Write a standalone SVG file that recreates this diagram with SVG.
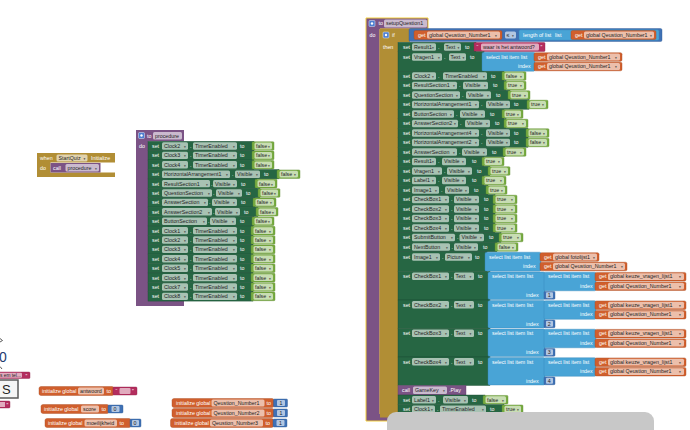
<svg xmlns="http://www.w3.org/2000/svg" width="690" height="430" viewBox="0 0 690 430">
<style>
text{font-family:"Liberation Sans",Arial,sans-serif;font-size:5.3px}
.t{fill:#fff}
.k{fill:#1e1e1e}
.a{font-family:"DejaVu Sans",sans-serif;font-size:3.6px;fill:#444}
.f{fill:#fff;fill-opacity:.6}
.g{fill:#266643;stroke:#1c4d32;stroke-width:.4}
.b{fill:#77ab41;stroke:#5d8b31;stroke-width:.4}
.o{fill:#d05f2d;stroke:#a9491f;stroke-width:.4}
.l{fill:#49a4d6;stroke:#3386b8;stroke-width:.4}
.m{fill:#3f71b5;stroke:#2f5a96;stroke-width:.4}
.p{fill:#7b5385}
.y{fill:#b18e35}
.s{fill:#b32d5e;stroke:#8e2049;stroke-width:.4}
</style>
<defs>
<g id="gear"><rect width="6" height="6" rx="1" fill="#4d7fd1" stroke="#e6eefa" stroke-width=".5"/><circle cx="3" cy="3" r="1.2" fill="#fff"/></g>
</defs>
<rect width="690" height="430" fill="#fff"/>

<g id="fragments">
<path d="M0,338.5L2.5,340.5L0,342" stroke="#333" stroke-width=".8" fill="none"/>
<text x="-1" y="362" style="font-size:14px;fill:#1f3d70">0</text>
<path d="M0,366.5L2,369" stroke="#333" stroke-width=".8" fill="none"/>
<rect class="s" x="-2" y="372" width="32" height="6.5" rx="1"/>
<rect class="f" x="-2" y="372.7" width="24" height="5.1" rx="1"/>
<text class="k" x="0" y="377" style="font-size:4.8px">s em tel...</text>
<text class="t" x="25.5" y="378">”</text>
<rect x="-1" y="380" width="19" height="18" fill="#f5f5f5" stroke="#5a5a5a" stroke-width="1.5"/>
<text x="2" y="394" style="font-size:13px;fill:#222">S</text>
<rect class="s" x="-2" y="401" width="12" height="7" rx="1"/>
<rect class="f" x="-2" y="402" width="7" height="5"/>
<text class="t" x="6.5" y="407">”</text>
</g>

<g id="when-StartQuiz">
<path class="y" d="M37,153H115V162.5H50.5V172.5H115V177H37Z"/>
<text class="t" x="40" y="160">when</text>
<rect class="f" x="56.5" y="154.5" width="31" height="7" rx="1.5"/>
<text class="k" x="58.5" y="160">StartQuiz<tspan class="a" x="83.5">▾</tspan></text>
<text class="t" x="91" y="160">Initialize</text>
<text class="t" x="40" y="169.5">do</text>
<rect class="p" x="50.5" y="163" width="50" height="9.5"/>
<text class="t" x="53" y="169.6">call</text>
<rect class="f" x="65.5" y="164" width="33.5" height="7.4" rx="1.5"/>
<text class="k" x="67.5" y="169.6">procedure<tspan class="a" x="95">▾</tspan></text>
</g>

<g id="init-antwoord">
<rect class="o" x="39" y="386.5" width="75" height="9" rx="2"/>
<text class="t" x="42" y="392.9">initialize global</text>
<rect class="f" x="78" y="387.6" width="26" height="6.8" rx="1.5"/>
<text class="k" x="80" y="392.9">antwoord</text>
<text class="t" x="106.5" y="392.9">to</text>
<rect class="s" x="113" y="387" width="24" height="8" rx="1"/>
<text class="t" x="115.5" y="393.3">“</text>
<rect class="f" x="119.5" y="388" width="11" height="6" rx="1"/>
<text class="t" x="132" y="393.3">”</text>
</g>
<g id="init-score">
<rect class="o" x="41" y="404.5" width="68" height="9" rx="2"/>
<text class="t" x="44" y="410.9">initialize global</text>
<rect class="f" x="81" y="405.6" width="18" height="6.8" rx="1.5"/>
<text class="k" x="83" y="410.9">score</text>
<text class="t" x="101.5" y="410.9">to</text>
<rect class="m" x="108" y="405" width="15" height="8" rx="1"/>
<rect class="f" x="111.5" y="406" width="8" height="6" rx="1"/>
<text class="k" x="113.5" y="410.9">0</text>
</g>
<g id="init-moeilijkheid">
<rect class="o" x="45" y="418.5" width="86" height="9" rx="2"/>
<text class="t" x="48" y="424.9">initialize global</text>
<rect class="f" x="84.5" y="419.6" width="32.5" height="6.8" rx="1.5"/>
<text class="k" x="86.5" y="424.9">moeilijkheid</text>
<text class="t" x="119.5" y="424.9">to</text>
<rect class="m" x="130" y="419" width="11" height="8" rx="1"/>
<rect class="f" x="132" y="420" width="7" height="6" rx="1"/>
<text class="k" x="133.5" y="424.9">0</text>
</g>
<g id="init-Qeustion_Number1">
<rect class="o" x="172" y="398.5" width="102" height="9" rx="2"/>
<text class="t" x="176" y="404.9">initialize global</text>
<rect class="f" x="211.5" y="399.6" width="53" height="6.8" rx="1.5"/>
<text class="k" x="213.5" y="404.9">Qeustion_Number1</text>
<text class="t" x="266.5" y="404.9">to</text>
<rect class="m" x="273.5" y="399" width="14" height="8" rx="1"/>
<rect class="f" x="277" y="400" width="8" height="6" rx="1"/>
<text class="k" x="279.5" y="404.9">1</text>
</g>
<g id="init-Qeustion_Number2">
<rect class="o" x="172" y="408.5" width="102" height="9" rx="2"/>
<text class="t" x="176" y="414.9">initialize global</text>
<rect class="f" x="211.5" y="409.6" width="53" height="6.8" rx="1.5"/>
<text class="k" x="213.5" y="414.9">Qeustion_Number2</text>
<text class="t" x="266.5" y="414.9">to</text>
<rect class="m" x="273.5" y="409" width="14" height="8" rx="1"/>
<rect class="f" x="277" y="410" width="8" height="6" rx="1"/>
<text class="k" x="279.5" y="414.9">1</text>
</g>
<g id="init-Qeustion_Number3">
<rect class="o" x="170.5" y="418.5" width="103" height="9" rx="2"/>
<text class="t" x="174.5" y="424.9">initialize global</text>
<rect class="f" x="210" y="419.6" width="53" height="6.8" rx="1.5"/>
<text class="k" x="212" y="424.9">Qeustion_Number3</text>
<text class="t" x="265.5" y="424.9">to</text>
<rect class="m" x="273" y="419" width="14" height="8" rx="1"/>
<rect class="f" x="276.5" y="420" width="8" height="6" rx="1"/>
<text class="k" x="279" y="424.9">1</text>
</g>

<g id="procedure">
<path class="p" d="M136,130H184V141.3H148V301.1H184V306H136Z"/>
<use href="#gear" x="138.5" y="132.5"/>
<text class="t" x="147" y="137.6">to</text>
<rect class="f" x="153" y="132" width="29" height="7.4" rx="1.5"/>
<text class="k" x="155" y="137.6">procedure</text>
<text class="t" x="139" y="148">do</text>

<g transform="translate(0,146)"><rect class="g" x="148" y="-4.7" width="106" height="9.4"/><text class="t" x="152" y="1.9">set</text><rect class="f" x="162" y="-3.7" width="26" height="7.4" rx="1.5"/><text class="k" x="164" y="1.9">Clock2<tspan class="a" x="184">▾</tspan></text><text class="t" x="190" y="1.9">.</text><rect class="f" x="193" y="-3.7" width="44" height="7.4" rx="1.5"/><text class="k" x="195" y="1.9">TimerEnabled<tspan class="a" x="233">▾</tspan></text><text class="t" x="240" y="1.9">to</text><rect class="b" x="252" y="-4.3" width="22" height="8.6" rx="1"/><rect class="f" x="254.5" y="-3.4" width="17.5" height="6.8" rx="1.5"/><text class="k" x="256" y="1.9">false<tspan class="a" x="268">▾</tspan></text></g>
<g transform="translate(0,155.4)"><rect class="g" x="148" y="-4.7" width="106" height="9.4"/><text class="t" x="152" y="1.9">set</text><rect class="f" x="162" y="-3.7" width="26" height="7.4" rx="1.5"/><text class="k" x="164" y="1.9">Clock3<tspan class="a" x="184">▾</tspan></text><text class="t" x="190" y="1.9">.</text><rect class="f" x="193" y="-3.7" width="44" height="7.4" rx="1.5"/><text class="k" x="195" y="1.9">TimerEnabled<tspan class="a" x="233">▾</tspan></text><text class="t" x="240" y="1.9">to</text><rect class="b" x="252" y="-4.3" width="22" height="8.6" rx="1"/><rect class="f" x="254.5" y="-3.4" width="17.5" height="6.8" rx="1.5"/><text class="k" x="256" y="1.9">false<tspan class="a" x="268">▾</tspan></text></g>
<g transform="translate(0,164.8)"><rect class="g" x="148" y="-4.7" width="106" height="9.4"/><text class="t" x="152" y="1.9">set</text><rect class="f" x="162" y="-3.7" width="26" height="7.4" rx="1.5"/><text class="k" x="164" y="1.9">Clock4<tspan class="a" x="184">▾</tspan></text><text class="t" x="190" y="1.9">.</text><rect class="f" x="193" y="-3.7" width="44" height="7.4" rx="1.5"/><text class="k" x="195" y="1.9">TimerEnabled<tspan class="a" x="233">▾</tspan></text><text class="t" x="240" y="1.9">to</text><rect class="b" x="252" y="-4.3" width="22" height="8.6" rx="1"/><rect class="f" x="254.5" y="-3.4" width="17.5" height="6.8" rx="1.5"/><text class="k" x="256" y="1.9">false<tspan class="a" x="268">▾</tspan></text></g>
<g transform="translate(0,174.2)"><rect class="g" x="148" y="-4.7" width="131" height="9.4"/><text class="t" x="152" y="1.9">set</text><rect class="f" x="162" y="-3.7" width="68" height="7.4" rx="1.5"/><text class="k" x="164" y="1.9">HorizontalArrangement1<tspan class="a" x="226">▾</tspan></text><text class="t" x="232" y="1.9">.</text><rect class="f" x="235" y="-3.7" width="25" height="7.4" rx="1.5"/><text class="k" x="237" y="1.9">Visible<tspan class="a" x="256">▾</tspan></text><text class="t" x="264" y="1.9">to</text><rect class="b" x="277" y="-4.3" width="23" height="8.6" rx="1"/><rect class="f" x="279.5" y="-3.4" width="18.5" height="6.8" rx="1.5"/><text class="k" x="281" y="1.9">false<tspan class="a" x="294">▾</tspan></text></g>
<g transform="translate(0,183.6)"><rect class="g" x="148" y="-4.7" width="109" height="9.4"/><text class="t" x="152" y="1.9">set</text><rect class="f" x="162" y="-3.7" width="48" height="7.4" rx="1.5"/><text class="k" x="164" y="1.9">ResultSection1<tspan class="a" x="206">▾</tspan></text><text class="t" x="211" y="1.9">.</text><rect class="f" x="213" y="-3.7" width="24" height="7.4" rx="1.5"/><text class="k" x="215" y="1.9">Visible<tspan class="a" x="233">▾</tspan></text><text class="t" x="241" y="1.9">to</text><rect class="b" x="255" y="-4.3" width="22" height="8.6" rx="1"/><rect class="f" x="257.5" y="-3.4" width="17.5" height="6.8" rx="1.5"/><text class="k" x="259" y="1.9">false<tspan class="a" x="271">▾</tspan></text></g>
<g transform="translate(0,193)"><rect class="g" x="148" y="-4.7" width="112" height="9.4"/><text class="t" x="152" y="1.9">set</text><rect class="f" x="162" y="-3.7" width="50" height="7.4" rx="1.5"/><text class="k" x="164" y="1.9">QuestionSection<tspan class="a" x="208">▾</tspan></text><text class="t" x="213" y="1.9">.</text><rect class="f" x="216" y="-3.7" width="26" height="7.4" rx="1.5"/><text class="k" x="218" y="1.9">Visible<tspan class="a" x="238">▾</tspan></text><text class="t" x="246" y="1.9">to</text><rect class="b" x="258" y="-4.3" width="22" height="8.6" rx="1"/><rect class="f" x="260.5" y="-3.4" width="17.5" height="6.8" rx="1.5"/><text class="k" x="262" y="1.9">false<tspan class="a" x="274">▾</tspan></text></g>
<g transform="translate(0,202.4)"><rect class="g" x="148" y="-4.7" width="107" height="9.4"/><text class="t" x="152" y="1.9">set</text><rect class="f" x="162" y="-3.7" width="46" height="7.4" rx="1.5"/><text class="k" x="164" y="1.9">AnswerSection<tspan class="a" x="204">▾</tspan></text><text class="t" x="209" y="1.9">.</text><rect class="f" x="212" y="-3.7" width="25" height="7.4" rx="1.5"/><text class="k" x="214" y="1.9">Visible<tspan class="a" x="233">▾</tspan></text><text class="t" x="241" y="1.9">to</text><rect class="b" x="253" y="-4.3" width="23" height="8.6" rx="1"/><rect class="f" x="255.5" y="-3.4" width="18.5" height="6.8" rx="1.5"/><text class="k" x="257" y="1.9">false<tspan class="a" x="270">▾</tspan></text></g>
<g transform="translate(0,211.8)"><rect class="g" x="148" y="-4.7" width="110" height="9.4"/><text class="t" x="152" y="1.9">set</text><rect class="f" x="162" y="-3.7" width="50" height="7.4" rx="1.5"/><text class="k" x="164" y="1.9">AnswerSection2<tspan class="a" x="208">▾</tspan></text><text class="t" x="213" y="1.9">.</text><rect class="f" x="215" y="-3.7" width="25" height="7.4" rx="1.5"/><text class="k" x="217" y="1.9">Visible<tspan class="a" x="236">▾</tspan></text><text class="t" x="244" y="1.9">to</text><rect class="b" x="256" y="-4.3" width="22" height="8.6" rx="1"/><rect class="f" x="258.5" y="-3.4" width="17.5" height="6.8" rx="1.5"/><text class="k" x="260" y="1.9">false<tspan class="a" x="272">▾</tspan></text></g>
<g transform="translate(0,221.2)"><rect class="g" x="148" y="-4.7" width="106" height="9.4"/><text class="t" x="152" y="1.9">set</text><rect class="f" x="162" y="-3.7" width="45" height="7.4" rx="1.5"/><text class="k" x="164" y="1.9">ButtonSection<tspan class="a" x="203">▾</tspan></text><text class="t" x="208" y="1.9">.</text><rect class="f" x="210" y="-3.7" width="26" height="7.4" rx="1.5"/><text class="k" x="212" y="1.9">Visible<tspan class="a" x="232">▾</tspan></text><text class="t" x="240" y="1.9">to</text><rect class="b" x="252" y="-4.3" width="22" height="8.6" rx="1"/><rect class="f" x="254.5" y="-3.4" width="17.5" height="6.8" rx="1.5"/><text class="k" x="256" y="1.9">false<tspan class="a" x="268">▾</tspan></text></g>
<g transform="translate(0,230.6)"><rect class="g" x="148" y="-4.7" width="105" height="9.4"/><text class="t" x="152" y="1.9">set</text><rect class="f" x="162" y="-3.7" width="26" height="7.4" rx="1.5"/><text class="k" x="164" y="1.9">Clock1<tspan class="a" x="184">▾</tspan></text><text class="t" x="190" y="1.9">.</text><rect class="f" x="193" y="-3.7" width="44" height="7.4" rx="1.5"/><text class="k" x="195" y="1.9">TimerEnabled<tspan class="a" x="233">▾</tspan></text><text class="t" x="240" y="1.9">to</text><rect class="b" x="251" y="-4.3" width="24" height="8.6" rx="1"/><rect class="f" x="253.5" y="-3.4" width="19.5" height="6.8" rx="1.5"/><text class="k" x="255" y="1.9">false<tspan class="a" x="269">▾</tspan></text></g>
<g transform="translate(0,240)"><rect class="g" x="148" y="-4.7" width="105" height="9.4"/><text class="t" x="152" y="1.9">set</text><rect class="f" x="162" y="-3.7" width="26" height="7.4" rx="1.5"/><text class="k" x="164" y="1.9">Clock2<tspan class="a" x="184">▾</tspan></text><text class="t" x="190" y="1.9">.</text><rect class="f" x="193" y="-3.7" width="44" height="7.4" rx="1.5"/><text class="k" x="195" y="1.9">TimerEnabled<tspan class="a" x="233">▾</tspan></text><text class="t" x="240" y="1.9">to</text><rect class="b" x="251" y="-4.3" width="24" height="8.6" rx="1"/><rect class="f" x="253.5" y="-3.4" width="19.5" height="6.8" rx="1.5"/><text class="k" x="255" y="1.9">false<tspan class="a" x="269">▾</tspan></text></g>
<g transform="translate(0,249.4)"><rect class="g" x="148" y="-4.7" width="105" height="9.4"/><text class="t" x="152" y="1.9">set</text><rect class="f" x="162" y="-3.7" width="26" height="7.4" rx="1.5"/><text class="k" x="164" y="1.9">Clock3<tspan class="a" x="184">▾</tspan></text><text class="t" x="190" y="1.9">.</text><rect class="f" x="193" y="-3.7" width="44" height="7.4" rx="1.5"/><text class="k" x="195" y="1.9">TimerEnabled<tspan class="a" x="233">▾</tspan></text><text class="t" x="240" y="1.9">to</text><rect class="b" x="251" y="-4.3" width="24" height="8.6" rx="1"/><rect class="f" x="253.5" y="-3.4" width="19.5" height="6.8" rx="1.5"/><text class="k" x="255" y="1.9">false<tspan class="a" x="269">▾</tspan></text></g>
<g transform="translate(0,258.8)"><rect class="g" x="148" y="-4.7" width="105" height="9.4"/><text class="t" x="152" y="1.9">set</text><rect class="f" x="162" y="-3.7" width="26" height="7.4" rx="1.5"/><text class="k" x="164" y="1.9">Clock4<tspan class="a" x="184">▾</tspan></text><text class="t" x="190" y="1.9">.</text><rect class="f" x="193" y="-3.7" width="44" height="7.4" rx="1.5"/><text class="k" x="195" y="1.9">TimerEnabled<tspan class="a" x="233">▾</tspan></text><text class="t" x="240" y="1.9">to</text><rect class="b" x="251" y="-4.3" width="24" height="8.6" rx="1"/><rect class="f" x="253.5" y="-3.4" width="19.5" height="6.8" rx="1.5"/><text class="k" x="255" y="1.9">false<tspan class="a" x="269">▾</tspan></text></g>
<g transform="translate(0,268.2)"><rect class="g" x="148" y="-4.7" width="105" height="9.4"/><text class="t" x="152" y="1.9">set</text><rect class="f" x="162" y="-3.7" width="26" height="7.4" rx="1.5"/><text class="k" x="164" y="1.9">Clock5<tspan class="a" x="184">▾</tspan></text><text class="t" x="190" y="1.9">.</text><rect class="f" x="193" y="-3.7" width="44" height="7.4" rx="1.5"/><text class="k" x="195" y="1.9">TimerEnabled<tspan class="a" x="233">▾</tspan></text><text class="t" x="240" y="1.9">to</text><rect class="b" x="251" y="-4.3" width="24" height="8.6" rx="1"/><rect class="f" x="253.5" y="-3.4" width="19.5" height="6.8" rx="1.5"/><text class="k" x="255" y="1.9">false<tspan class="a" x="269">▾</tspan></text></g>
<g transform="translate(0,277.6)"><rect class="g" x="148" y="-4.7" width="105" height="9.4"/><text class="t" x="152" y="1.9">set</text><rect class="f" x="162" y="-3.7" width="26" height="7.4" rx="1.5"/><text class="k" x="164" y="1.9">Clock6<tspan class="a" x="184">▾</tspan></text><text class="t" x="190" y="1.9">.</text><rect class="f" x="193" y="-3.7" width="44" height="7.4" rx="1.5"/><text class="k" x="195" y="1.9">TimerEnabled<tspan class="a" x="233">▾</tspan></text><text class="t" x="240" y="1.9">to</text><rect class="b" x="251" y="-4.3" width="24" height="8.6" rx="1"/><rect class="f" x="253.5" y="-3.4" width="19.5" height="6.8" rx="1.5"/><text class="k" x="255" y="1.9">false<tspan class="a" x="269">▾</tspan></text></g>
<g transform="translate(0,287)"><rect class="g" x="148" y="-4.7" width="105" height="9.4"/><text class="t" x="152" y="1.9">set</text><rect class="f" x="162" y="-3.7" width="26" height="7.4" rx="1.5"/><text class="k" x="164" y="1.9">Clock7<tspan class="a" x="184">▾</tspan></text><text class="t" x="190" y="1.9">.</text><rect class="f" x="193" y="-3.7" width="44" height="7.4" rx="1.5"/><text class="k" x="195" y="1.9">TimerEnabled<tspan class="a" x="233">▾</tspan></text><text class="t" x="240" y="1.9">to</text><rect class="b" x="251" y="-4.3" width="24" height="8.6" rx="1"/><rect class="f" x="253.5" y="-3.4" width="19.5" height="6.8" rx="1.5"/><text class="k" x="255" y="1.9">false<tspan class="a" x="269">▾</tspan></text></g>
<g transform="translate(0,296.4)"><rect class="g" x="148" y="-4.7" width="105" height="9.4"/><text class="t" x="152" y="1.9">set</text><rect class="f" x="162" y="-3.7" width="26" height="7.4" rx="1.5"/><text class="k" x="164" y="1.9">Clock8<tspan class="a" x="184">▾</tspan></text><text class="t" x="190" y="1.9">.</text><rect class="f" x="193" y="-3.7" width="44" height="7.4" rx="1.5"/><text class="k" x="195" y="1.9">TimerEnabled<tspan class="a" x="233">▾</tspan></text><text class="t" x="240" y="1.9">to</text><rect class="b" x="251" y="-4.3" width="24" height="8.6" rx="1"/><rect class="f" x="253.5" y="-3.4" width="19.5" height="6.8" rx="1.5"/><text class="k" x="255" y="1.9">false<tspan class="a" x="269">▾</tspan></text></g>
</g>

<g id="setupQuestion1">
<path class="p" d="M366,18H428V29H380V414H400V421H366Z" stroke="#f2cf3a" stroke-width="1"/>
<use href="#gear" x="369" y="20.5"/>
<text class="t" x="378.5" y="25.4">to</text>
<rect class="f" x="384" y="19.5" width="43" height="8" rx="1.5"/>
<text class="k" x="386" y="25.4">setupQuestion1</text>
<text class="t" x="369.5" y="37">do</text>
<path class="y" d="M380,29H410V42H398V412H420V417.5H380Z"/>
<use href="#gear" x="383" y="32"/>
<text class="t" x="392" y="37">if</text>
<text class="t" x="383" y="49">then</text>

<g id="condition">
<rect class="m" x="409" y="28.5" width="253" height="13" rx="1.5"/>
<rect class="o" x="414" y="30.5" width="88" height="9" rx="1.5"/>
<text class="t" x="418" y="36.9">get</text>
<rect class="f" x="427" y="31.5" width="73" height="7" rx="1.5"/>
<text class="k" x="429" y="36.9">global Qeustion_Number1<tspan class="a" x="495">▾</tspan></text>
<rect class="f" x="505" y="31.5" width="11" height="7" rx="1.5"/>
<text class="k" x="506.5" y="36.9">≤<tspan class="a" x="512">▾</tspan></text>
<rect class="l" x="519" y="29.8" width="140" height="10.4" rx="1.5"/>
<text class="t" x="523" y="36.9">length of list</text>
<text class="t" x="555" y="36.9">list</text>
<rect class="o" x="571" y="30.5" width="85" height="9" rx="1.5"/>
<text class="t" x="575" y="36.9">get</text>
<rect class="f" x="584" y="31.5" width="70" height="7" rx="1.5"/>
<text class="k" x="586" y="36.9">global Qeustion_Number1<tspan class="a" x="650">▾</tspan></text>
</g>

<g transform="translate(0,47)">
<rect class="g" x="398" y="-4.75" width="78" height="9.5"/><text class="t" x="403" y="1.9">set</text><rect class="f" x="412" y="-3.7" width="24" height="7.4" rx="1.5"/><text class="k" x="414" y="1.9">Result1<tspan class="a" x="432">▾</tspan></text><text class="t" x="438" y="1.9">.</text><rect class="f" x="444" y="-3.7" width="17" height="7.4" rx="1.5"/><text class="k" x="445.5" y="1.9">Text<tspan class="a" x="457.5">▾</tspan></text><text class="t" x="465" y="1.9">to</text>
<rect class="s" x="474" y="-4.5" width="71" height="9" rx="1"/><text class="t" x="476.5" y="2.2">“</text><rect class="f" x="481" y="-3.4" width="58" height="6.8" rx="1.5"/><text class="k" x="483" y="1.9">waar is het antwoord?</text><text class="t" x="540.5" y="2.2">”</text>
</g>

<g transform="translate(0,57)">
<rect class="g" x="398" y="-5.25" width="86" height="19.75"/><text class="t" x="403" y="1.9">set</text><rect class="f" x="412" y="-3.7" width="30" height="7.4" rx="1.5"/><text class="k" x="414" y="1.9">Vragen1<tspan class="a" x="438">▾</tspan></text><text class="t" x="444" y="1.9">.</text><rect class="f" x="449" y="-3.7" width="17" height="7.4" rx="1.5"/><text class="k" x="450.5" y="1.9">Text<tspan class="a" x="462.5">▾</tspan></text><text class="t" x="470" y="1.9">to</text>
<rect class="l" x="482" y="-4.8" width="53" height="19" rx="1.5"/><text class="t" x="486" y="1.9">select list item list</text><text class="t" x="518" y="11.4">index</text>
<rect class="o" x="534" y="-4.3" width="88" height="8.6" rx="1.5"/><text class="t" x="538" y="1.9">get</text><rect class="f" x="547" y="-3.4" width="73" height="6.8" rx="1.5"/><text class="k" x="549" y="1.9">global Qeustion_Number1<tspan class="a" x="615">▾</tspan></text>
<rect class="o" x="534" y="5.2" width="88" height="8.6" rx="1.5"/><text class="t" x="538" y="11.4">get</text><rect class="f" x="547" y="6.1" width="73" height="6.8" rx="1.5"/><text class="k" x="549" y="11.4">global Qeustion_Number1<tspan class="a" x="615">▾</tspan></text>
</g>

<g transform="translate(0,76)"><rect class="g" x="398" y="-4.75" width="106" height="9.5"/><text class="t" x="403" y="1.9">set</text><rect class="f" x="412" y="-3.7" width="24" height="7.4" rx="1.5"/><text class="k" x="414" y="1.9">Clock2<tspan class="a" x="432">▾</tspan></text><text class="t" x="438" y="1.9">.</text><rect class="f" x="443" y="-3.7" width="44" height="7.4" rx="1.5"/><text class="k" x="445" y="1.9">TimerEnabled<tspan class="a" x="483">▾</tspan></text><text class="t" x="491" y="1.9">to</text><rect class="b" x="502" y="-4.3" width="24" height="8.6" rx="1"/><rect class="f" x="504.5" y="-3.4" width="19.5" height="6.8" rx="1.5"/><text class="k" x="506" y="1.9">false<tspan class="a" x="520">▾</tspan></text></g>
<g transform="translate(0,85.5)"><rect class="g" x="398" y="-4.75" width="108" height="9.5"/><text class="t" x="403" y="1.9">set</text><rect class="f" x="412" y="-3.7" width="45" height="7.4" rx="1.5"/><text class="k" x="414" y="1.9">ResultSection1<tspan class="a" x="453">▾</tspan></text><text class="t" x="459" y="1.9">.</text><rect class="f" x="463" y="-3.7" width="25" height="7.4" rx="1.5"/><text class="k" x="465" y="1.9">Visible<tspan class="a" x="484">▾</tspan></text><text class="t" x="493" y="1.9">to</text><rect class="b" x="504" y="-4.3" width="22" height="8.6" rx="1"/><rect class="f" x="506.5" y="-3.4" width="17.5" height="6.8" rx="1.5"/><text class="k" x="508" y="1.9">true<tspan class="a" x="520">▾</tspan></text></g>
<g transform="translate(0,95)"><rect class="g" x="398" y="-4.75" width="112" height="9.5"/><text class="t" x="403" y="1.9">set</text><rect class="f" x="412" y="-3.7" width="48" height="7.4" rx="1.5"/><text class="k" x="414" y="1.9">QuestionSection<tspan class="a" x="456">▾</tspan></text><text class="t" x="462" y="1.9">.</text><rect class="f" x="466" y="-3.7" width="25" height="7.4" rx="1.5"/><text class="k" x="468" y="1.9">Visible<tspan class="a" x="487">▾</tspan></text><text class="t" x="496" y="1.9">to</text><rect class="b" x="508" y="-4.3" width="22" height="8.6" rx="1"/><rect class="f" x="510.5" y="-3.4" width="17.5" height="6.8" rx="1.5"/><text class="k" x="512" y="1.9">true<tspan class="a" x="524">▾</tspan></text></g>
<g transform="translate(0,104.5)"><rect class="g" x="398" y="-4.75" width="131" height="9.5"/><text class="t" x="403" y="1.9">set</text><rect class="f" x="412" y="-3.7" width="67" height="7.4" rx="1.5"/><text class="k" x="414" y="1.9">HorizontalArrangement1<tspan class="a" x="475">▾</tspan></text><text class="t" x="481" y="1.9">.</text><rect class="f" x="486" y="-3.7" width="24" height="7.4" rx="1.5"/><text class="k" x="488" y="1.9">Visible<tspan class="a" x="506">▾</tspan></text><text class="t" x="514" y="1.9">to</text><rect class="b" x="527" y="-4.3" width="21" height="8.6" rx="1"/><rect class="f" x="529.5" y="-3.4" width="16.5" height="6.8" rx="1.5"/><text class="k" x="531" y="1.9">true<tspan class="a" x="542">▾</tspan></text></g>
<g transform="translate(0,114)"><rect class="g" x="398" y="-4.75" width="106" height="9.5"/><text class="t" x="403" y="1.9">set</text><rect class="f" x="412" y="-3.7" width="42" height="7.4" rx="1.5"/><text class="k" x="414" y="1.9">ButtonSection<tspan class="a" x="450">▾</tspan></text><text class="t" x="456" y="1.9">.</text><rect class="f" x="460" y="-3.7" width="25" height="7.4" rx="1.5"/><text class="k" x="462" y="1.9">Visible<tspan class="a" x="481">▾</tspan></text><text class="t" x="490" y="1.9">to</text><rect class="b" x="502" y="-4.3" width="21" height="8.6" rx="1"/><rect class="f" x="504.5" y="-3.4" width="16.5" height="6.8" rx="1.5"/><text class="k" x="506" y="1.9">true<tspan class="a" x="517">▾</tspan></text></g>
<g transform="translate(0,123.5)"><rect class="g" x="398" y="-4.75" width="108" height="9.5"/><text class="t" x="403" y="1.9">set</text><rect class="f" x="412" y="-3.7" width="46" height="7.4" rx="1.5"/><text class="k" x="414" y="1.9">AnswerSection2<tspan class="a" x="454">▾</tspan></text><text class="t" x="460" y="1.9">.</text><rect class="f" x="465" y="-3.7" width="25" height="7.4" rx="1.5"/><text class="k" x="467" y="1.9">Visible<tspan class="a" x="486">▾</tspan></text><text class="t" x="495" y="1.9">to</text><rect class="b" x="504" y="-4.3" width="24" height="8.6" rx="1"/><rect class="f" x="506.5" y="-3.4" width="19.5" height="6.8" rx="1.5"/><text class="k" x="508" y="1.9">true<tspan class="a" x="522">▾</tspan></text></g>
<g transform="translate(0,133)"><rect class="g" x="398" y="-4.75" width="130" height="9.5"/><text class="t" x="403" y="1.9">set</text><rect class="f" x="412" y="-3.7" width="67" height="7.4" rx="1.5"/><text class="k" x="414" y="1.9">HorizontalArrangement4<tspan class="a" x="475">▾</tspan></text><text class="t" x="481" y="1.9">.</text><rect class="f" x="486" y="-3.7" width="24" height="7.4" rx="1.5"/><text class="k" x="488" y="1.9">Visible<tspan class="a" x="506">▾</tspan></text><text class="t" x="514" y="1.9">to</text><rect class="b" x="526" y="-4.3" width="23" height="8.6" rx="1"/><rect class="f" x="528.5" y="-3.4" width="18.5" height="6.8" rx="1.5"/><text class="k" x="530" y="1.9">false<tspan class="a" x="543">▾</tspan></text></g>
<g transform="translate(0,142.5)"><rect class="g" x="398" y="-4.75" width="130" height="9.5"/><text class="t" x="403" y="1.9">set</text><rect class="f" x="412" y="-3.7" width="67" height="7.4" rx="1.5"/><text class="k" x="414" y="1.9">HorizontalArrangement2<tspan class="a" x="475">▾</tspan></text><text class="t" x="481" y="1.9">.</text><rect class="f" x="486" y="-3.7" width="24" height="7.4" rx="1.5"/><text class="k" x="488" y="1.9">Visible<tspan class="a" x="506">▾</tspan></text><text class="t" x="514" y="1.9">to</text><rect class="b" x="526" y="-4.3" width="23" height="8.6" rx="1"/><rect class="f" x="528.5" y="-3.4" width="18.5" height="6.8" rx="1.5"/><text class="k" x="530" y="1.9">false<tspan class="a" x="543">▾</tspan></text></g>
<g transform="translate(0,152)"><rect class="g" x="398" y="-4.75" width="107" height="9.5"/><text class="t" x="403" y="1.9">set</text><rect class="f" x="412" y="-3.7" width="45" height="7.4" rx="1.5"/><text class="k" x="414" y="1.9">AnswerSection<tspan class="a" x="453">▾</tspan></text><text class="t" x="459" y="1.9">.</text><rect class="f" x="462" y="-3.7" width="25" height="7.4" rx="1.5"/><text class="k" x="464" y="1.9">Visible<tspan class="a" x="483">▾</tspan></text><text class="t" x="492" y="1.9">to</text><rect class="b" x="503" y="-4.3" width="23" height="8.6" rx="1"/><rect class="f" x="505.5" y="-3.4" width="18.5" height="6.8" rx="1.5"/><text class="k" x="507" y="1.9">true<tspan class="a" x="520">▾</tspan></text></g>
<g transform="translate(0,161.5)"><rect class="g" x="398" y="-4.75" width="86" height="9.5"/><text class="t" x="403" y="1.9">set</text><rect class="f" x="412" y="-3.7" width="24" height="7.4" rx="1.5"/><text class="k" x="414" y="1.9">Result1<tspan class="a" x="432">▾</tspan></text><text class="t" x="438" y="1.9">.</text><rect class="f" x="442" y="-3.7" width="24" height="7.4" rx="1.5"/><text class="k" x="444" y="1.9">Visible<tspan class="a" x="462">▾</tspan></text><text class="t" x="472" y="1.9">to</text><rect class="b" x="482" y="-4.3" width="22" height="8.6" rx="1"/><rect class="f" x="484.5" y="-3.4" width="17.5" height="6.8" rx="1.5"/><text class="k" x="486" y="1.9">true<tspan class="a" x="498">▾</tspan></text></g>
<g transform="translate(0,171)"><rect class="g" x="398" y="-4.75" width="92" height="9.5"/><text class="t" x="403" y="1.9">set</text><rect class="f" x="412" y="-3.7" width="30" height="7.4" rx="1.5"/><text class="k" x="414" y="1.9">Vragen1<tspan class="a" x="438">▾</tspan></text><text class="t" x="444" y="1.9">.</text><rect class="f" x="447" y="-3.7" width="25" height="7.4" rx="1.5"/><text class="k" x="449" y="1.9">Visible<tspan class="a" x="468">▾</tspan></text><text class="t" x="477" y="1.9">to</text><rect class="b" x="488" y="-4.3" width="22" height="8.6" rx="1"/><rect class="f" x="490.5" y="-3.4" width="17.5" height="6.8" rx="1.5"/><text class="k" x="492" y="1.9">true<tspan class="a" x="504">▾</tspan></text></g>
<g transform="translate(0,180.5)"><rect class="g" x="398" y="-4.75" width="86" height="9.5"/><text class="t" x="403" y="1.9">set</text><rect class="f" x="412" y="-3.7" width="24" height="7.4" rx="1.5"/><text class="k" x="414" y="1.9">Label1<tspan class="a" x="432">▾</tspan></text><text class="t" x="438" y="1.9">.</text><rect class="f" x="442" y="-3.7" width="24" height="7.4" rx="1.5"/><text class="k" x="444" y="1.9">Visible<tspan class="a" x="462">▾</tspan></text><text class="t" x="472" y="1.9">to</text><rect class="b" x="482" y="-4.3" width="24" height="8.6" rx="1"/><rect class="f" x="484.5" y="-3.4" width="19.5" height="6.8" rx="1.5"/><text class="k" x="486" y="1.9">true<tspan class="a" x="500">▾</tspan></text></g>
<g transform="translate(0,190)"><rect class="g" x="398" y="-4.75" width="90" height="9.5"/><text class="t" x="403" y="1.9">set</text><rect class="f" x="412" y="-3.7" width="27" height="7.4" rx="1.5"/><text class="k" x="414" y="1.9">Image1<tspan class="a" x="435">▾</tspan></text><text class="t" x="441" y="1.9">.</text><rect class="f" x="445" y="-3.7" width="24" height="7.4" rx="1.5"/><text class="k" x="447" y="1.9">Visible<tspan class="a" x="465">▾</tspan></text><text class="t" x="474" y="1.9">to</text><rect class="b" x="486" y="-4.3" width="21" height="8.6" rx="1"/><rect class="f" x="488.5" y="-3.4" width="16.5" height="6.8" rx="1.5"/><text class="k" x="490" y="1.9">true<tspan class="a" x="501">▾</tspan></text></g>
<g transform="translate(0,199.5)"><rect class="g" x="398" y="-4.75" width="97" height="9.5"/><text class="t" x="403" y="1.9">set</text><rect class="f" x="412" y="-3.7" width="37" height="7.4" rx="1.5"/><text class="k" x="414" y="1.9">CheckBox1<tspan class="a" x="445">▾</tspan></text><text class="t" x="451" y="1.9">.</text><rect class="f" x="454" y="-3.7" width="25" height="7.4" rx="1.5"/><text class="k" x="456" y="1.9">Visible<tspan class="a" x="475">▾</tspan></text><text class="t" x="484" y="1.9">to</text><rect class="b" x="493" y="-4.3" width="24" height="8.6" rx="1"/><rect class="f" x="495.5" y="-3.4" width="19.5" height="6.8" rx="1.5"/><text class="k" x="497" y="1.9">true<tspan class="a" x="511">▾</tspan></text></g>
<g transform="translate(0,209)"><rect class="g" x="398" y="-4.75" width="97" height="9.5"/><text class="t" x="403" y="1.9">set</text><rect class="f" x="412" y="-3.7" width="37" height="7.4" rx="1.5"/><text class="k" x="414" y="1.9">CheckBox2<tspan class="a" x="445">▾</tspan></text><text class="t" x="451" y="1.9">.</text><rect class="f" x="454" y="-3.7" width="25" height="7.4" rx="1.5"/><text class="k" x="456" y="1.9">Visible<tspan class="a" x="475">▾</tspan></text><text class="t" x="484" y="1.9">to</text><rect class="b" x="493" y="-4.3" width="24" height="8.6" rx="1"/><rect class="f" x="495.5" y="-3.4" width="19.5" height="6.8" rx="1.5"/><text class="k" x="497" y="1.9">true<tspan class="a" x="511">▾</tspan></text></g>
<g transform="translate(0,218.5)"><rect class="g" x="398" y="-4.75" width="97" height="9.5"/><text class="t" x="403" y="1.9">set</text><rect class="f" x="412" y="-3.7" width="37" height="7.4" rx="1.5"/><text class="k" x="414" y="1.9">CheckBox3<tspan class="a" x="445">▾</tspan></text><text class="t" x="451" y="1.9">.</text><rect class="f" x="454" y="-3.7" width="25" height="7.4" rx="1.5"/><text class="k" x="456" y="1.9">Visible<tspan class="a" x="475">▾</tspan></text><text class="t" x="484" y="1.9">to</text><rect class="b" x="493" y="-4.3" width="24" height="8.6" rx="1"/><rect class="f" x="495.5" y="-3.4" width="19.5" height="6.8" rx="1.5"/><text class="k" x="497" y="1.9">true<tspan class="a" x="511">▾</tspan></text></g>
<g transform="translate(0,228)"><rect class="g" x="398" y="-4.75" width="97" height="9.5"/><text class="t" x="403" y="1.9">set</text><rect class="f" x="412" y="-3.7" width="37" height="7.4" rx="1.5"/><text class="k" x="414" y="1.9">CheckBox4<tspan class="a" x="445">▾</tspan></text><text class="t" x="451" y="1.9">.</text><rect class="f" x="454" y="-3.7" width="25" height="7.4" rx="1.5"/><text class="k" x="456" y="1.9">Visible<tspan class="a" x="475">▾</tspan></text><text class="t" x="484" y="1.9">to</text><rect class="b" x="493" y="-4.3" width="24" height="8.6" rx="1"/><rect class="f" x="495.5" y="-3.4" width="19.5" height="6.8" rx="1.5"/><text class="k" x="497" y="1.9">true<tspan class="a" x="511">▾</tspan></text></g>
<g transform="translate(0,237.5)"><rect class="g" x="398" y="-4.75" width="103" height="9.5"/><text class="t" x="403" y="1.9">set</text><rect class="f" x="412" y="-3.7" width="43" height="7.4" rx="1.5"/><text class="k" x="414" y="1.9">SubmitButton<tspan class="a" x="451">▾</tspan></text><text class="t" x="457" y="1.9">.</text><rect class="f" x="459.5" y="-3.7" width="24.5" height="7.4" rx="1.5"/><text class="k" x="461.5" y="1.9">Visible<tspan class="a" x="480">▾</tspan></text><text class="t" x="489" y="1.9">to</text><rect class="b" x="499" y="-4.3" width="24" height="8.6" rx="1"/><rect class="f" x="501.5" y="-3.4" width="19.5" height="6.8" rx="1.5"/><text class="k" x="503" y="1.9">true<tspan class="a" x="517">▾</tspan></text></g>
<g transform="translate(0,247)"><rect class="g" x="398" y="-4.75" width="99" height="9.5"/><text class="t" x="403" y="1.9">set</text><rect class="f" x="412" y="-3.7" width="38" height="7.4" rx="1.5"/><text class="k" x="414" y="1.9">NextButton<tspan class="a" x="446">▾</tspan></text><text class="t" x="451.5" y="1.9">.</text><rect class="f" x="454" y="-3.7" width="24" height="7.4" rx="1.5"/><text class="k" x="456" y="1.9">Visible<tspan class="a" x="474">▾</tspan></text><text class="t" x="483" y="1.9">to</text><rect class="b" x="495" y="-4.3" width="23" height="8.6" rx="1"/><rect class="f" x="497.5" y="-3.4" width="18.5" height="6.8" rx="1.5"/><text class="k" x="499" y="1.9">false<tspan class="a" x="512">▾</tspan></text></g>

<g transform="translate(0,257)">
<rect class="g" x="398" y="-5.25" width="89" height="19.75"/><text class="t" x="403" y="1.9">set</text><rect class="f" x="412" y="-3.7" width="28" height="7.4" rx="1.5"/><text class="k" x="414" y="1.9">Image1<tspan class="a" x="436">▾</tspan></text><text class="t" x="442" y="1.9">.</text><rect class="f" x="445" y="-3.7" width="27" height="7.4" rx="1.5"/><text class="k" x="447" y="1.9">Picture<tspan class="a" x="468">▾</tspan></text><text class="t" x="475" y="1.9">to</text>
<rect class="l" x="485" y="-4.8" width="56" height="19" rx="1.5"/><text class="t" x="489" y="1.9">select list item list</text><text class="t" x="523" y="11.4">index</text>
<rect class="o" x="540" y="-4.3" width="59" height="8.6" rx="1.5"/><text class="t" x="544" y="1.9">get</text><rect class="f" x="553" y="-3.4" width="44" height="6.8" rx="1.5"/><text class="k" x="555" y="1.9">global fotolijst1<tspan class="a" x="593">▾</tspan></text>
<rect class="o" x="540" y="5.2" width="87" height="8.6" rx="1.5"/><text class="t" x="544" y="11.4">get</text><rect class="f" x="553" y="6.1" width="72" height="6.8" rx="1.5"/><text class="k" x="555" y="11.4">global Qeustion_Number1<tspan class="a" x="621">▾</tspan></text>
</g>

<g transform="translate(0,271.5)">
<rect class="g" x="398" y="0" width="92" height="28.5"/><text class="t" x="403" y="6.65">set</text><rect class="f" x="412" y="1.05" width="37" height="7.4" rx="1.5"/><text class="k" x="414" y="6.65">CheckBox1<tspan class="a" x="445">▾</tspan></text><text class="t" x="451" y="6.65">.</text><rect class="f" x="454" y="1.05" width="20" height="7.4" rx="1.5"/><text class="k" x="455.5" y="6.65">Text<tspan class="a" x="469.5">▾</tspan></text><text class="t" x="478" y="6.65">to</text>
<rect class="l" x="488" y="0.5" width="57" height="27.5" rx="1.5"/><text class="t" x="492" y="6.65">select list item list</text><text class="t" x="526" y="25.65">index</text>
<rect class="l" x="544" y="0.7" width="52" height="18.6" rx="1.5"/><text class="t" x="548" y="6.65">select list item list</text><text class="t" x="580" y="16.15">index</text>
<rect class="o" x="595" y="0.9" width="91" height="8.6" rx="1.5"/><text class="t" x="599" y="6.65">get</text><rect class="f" x="608" y="1.8" width="76" height="6.8" rx="1.5"/><text class="k" x="610" y="6.65">global keuze_vragen_lijst1<tspan class="a" x="679">▾</tspan></text>
<rect class="o" x="595" y="10.4" width="91" height="8.6" rx="1.5"/><text class="t" x="599" y="16.15">get</text><rect class="f" x="608" y="11.3" width="76" height="6.8" rx="1.5"/><text class="k" x="610" y="16.15">global Qeustion_Number1<tspan class="a" x="679">▾</tspan></text>
<rect class="m" x="544" y="19.9" width="11" height="7.8" rx="1"/><rect class="f" x="546" y="20.8" width="7" height="6" rx="1"/><text class="k" x="547.7" y="25.65">1</text>
</g>
<g transform="translate(0,300)">
<rect class="g" x="398" y="0" width="92" height="28.5"/><text class="t" x="403" y="6.65">set</text><rect class="f" x="412" y="1.05" width="37" height="7.4" rx="1.5"/><text class="k" x="414" y="6.65">CheckBox2<tspan class="a" x="445">▾</tspan></text><text class="t" x="451" y="6.65">.</text><rect class="f" x="454" y="1.05" width="20" height="7.4" rx="1.5"/><text class="k" x="455.5" y="6.65">Text<tspan class="a" x="469.5">▾</tspan></text><text class="t" x="478" y="6.65">to</text>
<rect class="l" x="488" y="0.5" width="57" height="27.5" rx="1.5"/><text class="t" x="492" y="6.65">select list item list</text><text class="t" x="526" y="25.65">index</text>
<rect class="l" x="544" y="0.7" width="52" height="18.6" rx="1.5"/><text class="t" x="548" y="6.65">select list item list</text><text class="t" x="580" y="16.15">index</text>
<rect class="o" x="595" y="0.9" width="91" height="8.6" rx="1.5"/><text class="t" x="599" y="6.65">get</text><rect class="f" x="608" y="1.8" width="76" height="6.8" rx="1.5"/><text class="k" x="610" y="6.65">global keuze_vragen_lijst1<tspan class="a" x="679">▾</tspan></text>
<rect class="o" x="595" y="10.4" width="91" height="8.6" rx="1.5"/><text class="t" x="599" y="16.15">get</text><rect class="f" x="608" y="11.3" width="76" height="6.8" rx="1.5"/><text class="k" x="610" y="16.15">global Qeustion_Number1<tspan class="a" x="679">▾</tspan></text>
<rect class="m" x="544" y="19.9" width="11" height="7.8" rx="1"/><rect class="f" x="546" y="20.8" width="7" height="6" rx="1"/><text class="k" x="547.7" y="25.65">2</text>
</g>
<g transform="translate(0,328.5)">
<rect class="g" x="398" y="0" width="92" height="28.5"/><text class="t" x="403" y="6.65">set</text><rect class="f" x="412" y="1.05" width="37" height="7.4" rx="1.5"/><text class="k" x="414" y="6.65">CheckBox3<tspan class="a" x="445">▾</tspan></text><text class="t" x="451" y="6.65">.</text><rect class="f" x="454" y="1.05" width="20" height="7.4" rx="1.5"/><text class="k" x="455.5" y="6.65">Text<tspan class="a" x="469.5">▾</tspan></text><text class="t" x="478" y="6.65">to</text>
<rect class="l" x="488" y="0.5" width="57" height="27.5" rx="1.5"/><text class="t" x="492" y="6.65">select list item list</text><text class="t" x="526" y="25.65">index</text>
<rect class="l" x="544" y="0.7" width="52" height="18.6" rx="1.5"/><text class="t" x="548" y="6.65">select list item list</text><text class="t" x="580" y="16.15">index</text>
<rect class="o" x="595" y="0.9" width="91" height="8.6" rx="1.5"/><text class="t" x="599" y="6.65">get</text><rect class="f" x="608" y="1.8" width="76" height="6.8" rx="1.5"/><text class="k" x="610" y="6.65">global keuze_vragen_lijst1<tspan class="a" x="679">▾</tspan></text>
<rect class="o" x="595" y="10.4" width="91" height="8.6" rx="1.5"/><text class="t" x="599" y="16.15">get</text><rect class="f" x="608" y="11.3" width="76" height="6.8" rx="1.5"/><text class="k" x="610" y="16.15">global Qeustion_Number1<tspan class="a" x="679">▾</tspan></text>
<rect class="m" x="544" y="19.9" width="11" height="7.8" rx="1"/><rect class="f" x="546" y="20.8" width="7" height="6" rx="1"/><text class="k" x="547.7" y="25.65">3</text>
</g>
<g transform="translate(0,357)">
<rect class="g" x="398" y="0" width="92" height="28.5"/><text class="t" x="403" y="6.65">set</text><rect class="f" x="412" y="1.05" width="37" height="7.4" rx="1.5"/><text class="k" x="414" y="6.65">CheckBox4<tspan class="a" x="445">▾</tspan></text><text class="t" x="451" y="6.65">.</text><rect class="f" x="454" y="1.05" width="20" height="7.4" rx="1.5"/><text class="k" x="455.5" y="6.65">Text<tspan class="a" x="469.5">▾</tspan></text><text class="t" x="478" y="6.65">to</text>
<rect class="l" x="488" y="0.5" width="57" height="27.5" rx="1.5"/><text class="t" x="492" y="6.65">select list item list</text><text class="t" x="526" y="25.65">index</text>
<rect class="l" x="544" y="0.7" width="52" height="18.6" rx="1.5"/><text class="t" x="548" y="6.65">select list item list</text><text class="t" x="580" y="16.15">index</text>
<rect class="o" x="595" y="0.9" width="91" height="8.6" rx="1.5"/><text class="t" x="599" y="6.65">get</text><rect class="f" x="608" y="1.8" width="76" height="6.8" rx="1.5"/><text class="k" x="610" y="6.65">global keuze_vragen_lijst1<tspan class="a" x="679">▾</tspan></text>
<rect class="o" x="595" y="10.4" width="91" height="8.6" rx="1.5"/><text class="t" x="599" y="16.15">get</text><rect class="f" x="608" y="11.3" width="76" height="6.8" rx="1.5"/><text class="k" x="610" y="16.15">global Qeustion_Number1<tspan class="a" x="679">▾</tspan></text>
<rect class="m" x="544" y="19.9" width="11" height="7.8" rx="1"/><rect class="f" x="546" y="20.8" width="7" height="6" rx="1"/><text class="k" x="547.7" y="25.65">4</text>
</g>

<g transform="translate(0,390.25)"><rect class="p" x="398" y="-4.75" width="68" height="9.5" stroke="#5e3d67" stroke-width=".4"/><text class="t" x="402" y="1.9">call</text><rect class="f" x="413" y="-3.7" width="34" height="7.4" rx="1.5"/><text class="k" x="415" y="1.9">GameKey<tspan class="a" x="443">▾</tspan></text><text class="t" x="449" y="1.9">.Play</text></g>
<g transform="translate(0,399.75)"><rect class="g" x="398" y="-4.75" width="87" height="9.5"/><text class="t" x="403" y="1.9">set</text><rect class="f" x="412" y="-3.7" width="24" height="7.4" rx="1.5"/><text class="k" x="414" y="1.9">Label1<tspan class="a" x="432">▾</tspan></text><text class="t" x="438" y="1.9">.</text><rect class="f" x="443" y="-3.7" width="25" height="7.4" rx="1.5"/><text class="k" x="445" y="1.9">Visible<tspan class="a" x="464">▾</tspan></text><text class="t" x="472" y="1.9">to</text><rect class="b" x="483" y="-4.3" width="25" height="8.6" rx="1"/><rect class="f" x="485.5" y="-3.4" width="20.5" height="6.8" rx="1.5"/><text class="k" x="487" y="1.9">false<tspan class="a" x="502">▾</tspan></text></g>
<g transform="translate(0,409.25)"><rect class="g" x="398" y="-4.75" width="106" height="9.5"/><text class="t" x="403" y="1.9">set</text><rect class="f" x="412" y="-3.7" width="23" height="7.4" rx="1.5"/><text class="k" x="414" y="1.9">Clock1<tspan class="a" x="431">▾</tspan></text><text class="t" x="437" y="1.9">.</text><rect class="f" x="440" y="-3.7" width="46" height="7.4" rx="1.5"/><text class="k" x="442" y="1.9">TimerEnabled<tspan class="a" x="482">▾</tspan></text><text class="t" x="490" y="1.9">to</text><rect class="b" x="502" y="-4.3" width="21" height="8.6" rx="1"/><rect class="f" x="504.5" y="-3.4" width="16.5" height="6.8" rx="1.5"/><text class="k" x="506" y="1.9">true<tspan class="a" x="517">▾</tspan></text></g>
</g>

<rect id="scrollbar" x="387" y="412" width="267" height="26" rx="9" fill="#c8c8c8"/>
</svg>
